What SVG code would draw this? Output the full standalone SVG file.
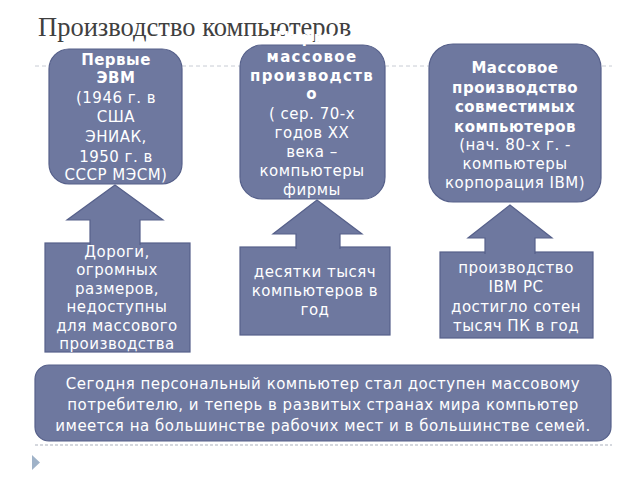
<svg xmlns="http://www.w3.org/2000/svg" width="640" height="480" viewBox="0 0 640 480">
<style>
.box{fill:#6e789f;stroke:#56608a;stroke-width:1.2}
.arr{fill:#6e789f;stroke:#56608a;stroke-width:1.2;stroke-linejoin:miter}
.t{font-family:"DejaVu Sans","Noto Sans",sans-serif;font-size:15px;fill:#ffffff;text-anchor:middle;letter-spacing:0.5px}
.b{font-weight:bold}
.w{letter-spacing:1.3px}
.title{font-family:"Liberation Serif","DejaVu Serif",serif;font-size:26.5px;fill:#404040}
</style>
<rect width="640" height="480" fill="#ffffff"/>
<line x1="35" y1="66" x2="612" y2="66" stroke="#c8ccd4" stroke-width="1" stroke-dasharray="4,3"/>
<line x1="35" y1="445" x2="612" y2="445" stroke="#c8ccd4" stroke-width="1.5" stroke-dasharray="3,2"/>
<polygon points="32,455 40,462.5 32,470" fill="#9fb2c8"/>
<text class="title" x="38" y="36">Производство компьютеров</text>

<g id="node-first">
<rect class="box" x="49" y="49" width="133" height="135" rx="20"/>
<text class="t b" x="116" y="65">Первые</text>
<text class="t b" x="116" y="83">ЭВМ</text>
<text class="t" x="116" y="103">(1946 г. в</text>
<text class="t" x="116" y="122">США</text>
<text class="t" x="116" y="142">ЭНИАК,</text>
<text class="t" x="116" y="162">1950 г. в</text>
<text class="t" x="116" y="180">СССР МЭСМ)</text>
</g>

<g id="node-mass">
<rect class="box" x="240" y="45" width="145" height="154" rx="22"/>
<text class="t b w" x="312" y="43">Первое</text>
<text class="t b w" x="312" y="62">массовое</text>
<text class="t b w" x="312" y="81">производств</text>
<text class="t b w" x="312" y="99">о</text>
<text class="t" x="312" y="119">( сер. 70-х</text>
<text class="t" x="312" y="138">годов XX</text>
<text class="t" x="312" y="157">века –</text>
<text class="t" x="312" y="176">компьютеры</text>
<text class="t" x="312" y="195">фирмы</text>
</g>

<g id="node-ibm">
<rect class="box" x="429" y="44" width="172" height="158" rx="24"/>
<text class="t b" x="515" y="73">Массовое</text>
<text class="t b" x="515" y="93">производство</text>
<text class="t b" x="515" y="112">совместимых</text>
<text class="t b" x="515" y="132">компьютеров</text>
<text class="t" x="515" y="150">(нач. 80-х г. -</text>
<text class="t" x="515" y="169">компьютеры</text>
<text class="t" x="515" y="188">корпорация IBM)</text>
</g>

<g id="node-costly">
<rect class="box" x="45" y="243" width="145" height="109"/>
<text class="t" x="117" y="257">Дороги,</text>
<text class="t" x="117" y="275">огромных</text>
<text class="t" x="117" y="294">размеров,</text>
<text class="t" x="117" y="312">недоступны</text>
<text class="t" x="117" y="331">для массового</text>
<text class="t" x="117" y="349">производства</text>
</g>

<g id="node-tens">
<rect class="box" x="240" y="247" width="150" height="88"/>
<text class="t" x="315" y="277">десятки тысяч</text>
<text class="t" x="315" y="296">компьютеров в</text>
<text class="t" x="315" y="315">год</text>
</g>

<g id="node-hundreds">
<rect class="box" x="440" y="252" width="153" height="86"/>
<text class="t" x="516" y="273">производство</text>
<text class="t" x="516" y="292">IBM PC</text>
<text class="t" x="516" y="312">достигло сотен</text>
<text class="t" x="516" y="331">тысяч ПК в год</text>
</g>

<g id="connectors">
<path class="arr" d="M90,245 L90,220 L67,220 L115,185 L163,220 L140,220 L140,245"/>
<path class="arr" d="M296,249 L296,234 L273,234 L317,200 L362,234 L340,234 L340,249"/>
<path class="arr" d="M485,254 L485,238 L468,238 L510,205 L552,238 L535,238 L535,254"/>
</g>

<g id="node-today">
<rect class="box" x="35" y="365" width="576" height="76" rx="14"/>
<text class="t" x="323" y="389">Сегодня персональный компьютер стал доступен массовому</text>
<text class="t" x="323" y="410">потребителю, и теперь в развитых странах мира компьютер</text>
<text class="t" x="323" y="431">имеется на большинстве рабочих мест и в большинстве семей.</text>
</g>
</svg>
